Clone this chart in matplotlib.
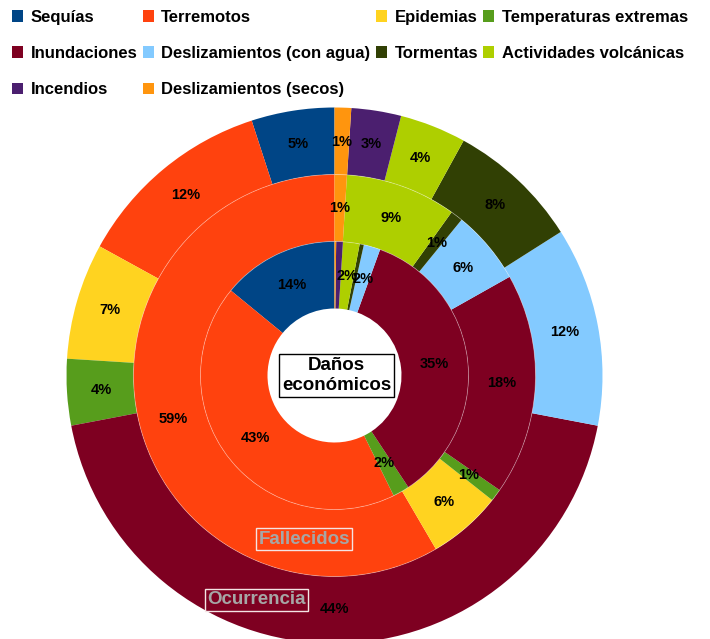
import matplotlib
matplotlib.use('Agg')
import matplotlib.pyplot as plt
from matplotlib.patches import Circle

plt.rcParams['font.family'] = ['Liberation Sans', 'DejaVu Sans']
plt.rcParams['font.weight'] = 'bold'

categories = ['Sequías', 'Terremotos', 'Epidemias', 'Temperaturas extremas',
              'Inundaciones', 'Deslizamientos (con agua)', 'Tormentas',
              'Actividades volcánicas', 'Incendios', 'Deslizamientos (secos)']
colors = ['#004586', '#ff420e', '#ffd320', '#579d1c', '#7e0021',
          '#83caff', '#314004', '#aecf00', '#4b1f6f', '#ff950e']

# values in percent, same order as categories
ocurrencia = [5, 12, 7, 4, 44, 12, 8, 4, 3, 1]
fallecidos = [0, 59, 6, 1, 18, 6, 1, 9, 0, 1]
danos = [14, 43, 0, 2, 35, 2, 0.5, 2, 0.8, 0.2]

W, H = 710, 639
fig = plt.figure(figsize=(W / 100, H / 100), dpi=100)
ax = fig.add_axes([0, 0, 1, 1])
ax.set_xlim(0, W)
ax.set_ylim(0, H)
ax.set_aspect('equal')
ax.axis('off')

cx, cy = 334.5, H - 375.5
ring = 67


def make_fmt(vals):
    total = sum(vals)

    def fmt(pct):
        v = pct * total / 100
        if v < 0.95:
            return ''
        return '%d%%' % round(v)
    return fmt


rings = [(ocurrencia, 268, 0.873), (fallecidos, 201, 0.833), (danos, 134, 0.75)]
outer_wedges = None
for vals, r, pd in rings:
    wedges, texts = ax.pie(vals, colors=colors, radius=r, center=(cx, cy),
                           startangle=90, counterclock=True,
                           autopct=make_fmt(vals), pctdistance=pd,
                           wedgeprops=dict(width=ring, linewidth=0),
                           textprops=dict(fontsize=10.5, fontweight='bold', color='black'))[:2]
    if outer_wedges is None:
        outer_wedges = wedges

# faint seams between the rings
for r in (201, 134):
    ax.add_patch(Circle((cx, cy), r, fill=False, edgecolor='white', lw=0.6,
                        alpha=0.35, zorder=1.5))

ax.set_xlim(0, W)
ax.set_ylim(0, H)

# center label
ax.text(cx + 2, cy + 0, 'Daños\neconómicos', ha='center', va='center',
        fontsize=13.5, fontweight='bold', linespacing=1.2,
        bbox=dict(boxstyle='square,pad=0.15', facecolor='white', edgecolor='black', lw=1))

# ring labels
for txt, x, y in [('Fallecidos', 304, H - 539), ('Ocurrencia', 256, H - 600)]:
    ax.text(x, y, txt, ha='center', va='center', fontsize=13.5,
            fontweight='bold', color='#a6a6a6',
            bbox=dict(boxstyle='square,pad=0.12', facecolor='none',
                      edgecolor='#f4e4e4', lw=1))

# legend, row-major order like the original
order = [0, 4, 8, 1, 5, 9, 2, 6, 3, 7]
leg = fig.legend([outer_wedges[i] for i in order], [categories[i] for i in order],
                 ncol=4, loc='upper left', bbox_to_anchor=(0.012, 0.99),
                 frameon=False, fontsize=12.0, handlelength=0.67, handleheight=0.67,
                 handletextpad=0.45, columnspacing=0.32, labelspacing=1.27,
                 borderpad=0.2, borderaxespad=0)
for t in leg.get_texts():
    t.set_fontweight('bold')

fig.savefig('out.png', dpi=100)
